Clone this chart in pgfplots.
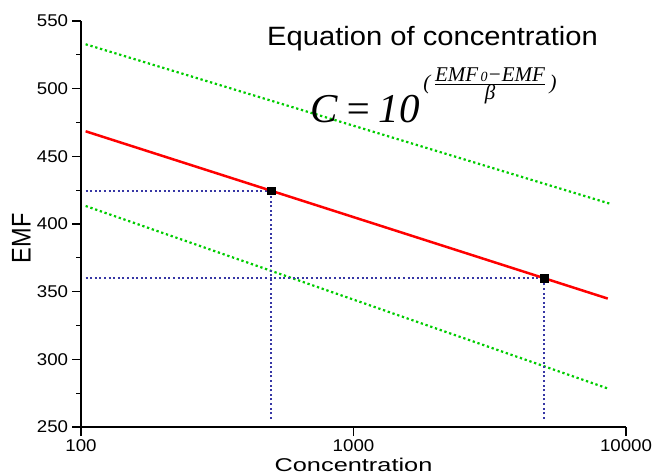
\documentclass[border=0pt]{standalone}
\usepackage{pgfplots}
\pgfplotsset{compat=1.18}
\usepackage{fontspec}
\setmainfont{Liberation Sans}
\newfontfamily\serif{Liberation Serif}

\definecolor{emfgreen}{RGB}{0,204,0}
\definecolor{emfblue}{RGB}{55,55,165}

\begin{document}
\begin{tikzpicture}
\begin{axis}[
    scale only axis,
    width=545pt, height=406pt,
    xmode=log, log basis x=10,
    xmin=100, xmax=10000,
    ymin=250, ymax=550,
    enlargelimits=false,
    axis lines=left,
    axis line style={-, line width=1.4pt},
    xtick={100,1000,10000},
    xticklabels={100,1000,10000},
    ytick={250,300,350,400,450,500,550},
    minor y tick num=1,
    tick align=outside,
    major tick length=9pt,
    minor tick length=5pt,
    every tick/.style={black, line width=1.2pt},
    /pgf/number format/assume math mode=true,
    tick label style={font=\fontsize{17}{17}\selectfont, xscale=1.1},
    xticklabel style={inner ysep=0.5pt, yshift=-3pt},
    xlabel={Concentration},
    ylabel={EMF},
    xlabel style={font=\fontsize{18.5}{18.5}\selectfont, xscale=1.37, inner sep=0pt,
        at={(axis description cs:0.5,0)}, anchor=base, yshift=-45pt},
    ylabel style={font=\fontsize{23.5}{23.5}\selectfont, yscale=1.15,
        at={(axis description cs:0,0.465)}, anchor=center, yshift=52pt},
    clip=false,
]
% upper limit
\addplot[emfgreen, line width=2.2pt, dash pattern=on 2.3pt off 2.7pt] coordinates {(104,532.8) (8730,415)};
% lower limit
\addplot[emfgreen, line width=2.2pt, dash pattern=on 2.3pt off 2.7pt] coordinates {(104,413.3) (8700,278)};
% guides
\addplot[emfblue, line width=2pt, dash pattern=on 2pt off 2.6pt] coordinates {(104,424.5) (500,424.5)};
\addplot[emfblue, line width=2pt, dash pattern=on 2pt off 2.6pt] coordinates {(500,256) (500,424.5)};
\addplot[emfblue, line width=2pt, dash pattern=on 2pt off 2.6pt] coordinates {(104,360) (5000,360)};
\addplot[emfblue, line width=2pt, dash pattern=on 2pt off 2.6pt] coordinates {(5000,256) (5000,360)};
% calibration line
\addplot[red, line width=2.5pt] coordinates {(104,468.5) (8570,344.9)};
\addplot[only marks, mark=square*, mark size=3.8pt, black] coordinates {(500,424.5) (5000,360)};

\node[anchor=base west, inner sep=0pt, xscale=1.1, font=\fontsize{26.5}{26.5}\selectfont]
    at (axis description cs:0.3413,0.9392) {Equation of concentration};
\node[anchor=base west, inner sep=0pt, font=\serif\itshape\fontsize{41}{41}\selectfont]
    at (axis description cs:0.420,0.7488) {C\,=\,10};
\node[anchor=center, inner sep=0pt, font=\serif\itshape\fontsize{21}{21}\selectfont]
    at (axis description cs:0.7505,0.841)
    {(\,$\frac{\hbox{EMF{\fontsize{14}{14}\selectfont\,0}−EMF}}{\hbox{β}}$\,)};
\end{axis}
\pgfresetboundingbox
\path[use as bounding box] (-81pt,-49pt) rectangle (572pt,427pt);
\end{tikzpicture}
\end{document}
